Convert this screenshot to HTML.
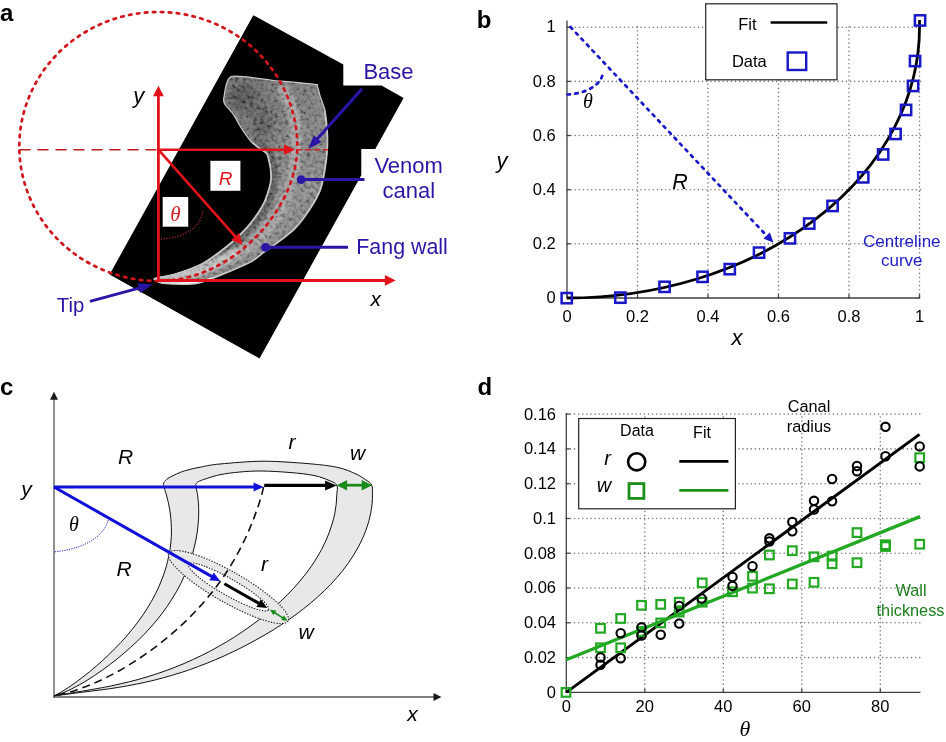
<!DOCTYPE html>
<html><head><meta charset="utf-8"><style>
html,body{margin:0;padding:0;background:#fff;width:946px;height:742px;overflow:hidden;}
svg{display:block;will-change:transform;}
</style></head><body>
<svg width="946" height="742" viewBox="0 0 946 742">
<rect width="946" height="742" fill="#fff"/>
<text x="0" y="21" fill="#000" text-anchor="start" style="font-family:'Liberation Sans',sans-serif;font-size:24px;font-weight:bold" >a</text>
<text x="476.8" y="28" fill="#000" text-anchor="start" style="font-family:'Liberation Sans',sans-serif;font-size:24px;font-weight:bold" >b</text>
<text x="0" y="395" fill="#000" text-anchor="start" style="font-family:'Liberation Sans',sans-serif;font-size:24px;font-weight:bold" >c</text>
<text x="477.5" y="395" fill="#000" text-anchor="start" style="font-family:'Liberation Sans',sans-serif;font-size:24px;font-weight:bold" >d</text>
<polygon points="253.3,15.2 343.3,64.5 343.3,85.5 381.5,85.5 403.6,98.1 375.3,149.1 361.3,149.1 361.3,175.3 259.5,358.4 109.6,274.6" fill="#000"/>
<defs><linearGradient id="fg" x1="0" y1="0" x2="1" y2="1"><stop offset="0" stop-color="#4c4c4c"/><stop offset="0.45" stop-color="#6c6c6c"/><stop offset="0.8" stop-color="#8a8a8a"/><stop offset="1" stop-color="#a4a4a4"/></linearGradient><filter id="bl" x="-50%" y="-50%" width="200%" height="200%"><feGaussianBlur stdDeviation="4"/></filter><filter id="bl2" x="-50%" y="-50%" width="200%" height="200%"><feGaussianBlur stdDeviation="1.5"/></filter><filter id="nz" x="0" y="0" width="100%" height="100%"><feTurbulence type="fractalNoise" baseFrequency="0.28" numOctaves="3" seed="7"/><feColorMatrix type="matrix" values="1.7 0 0 0 -0.45  1.7 0 0 0 -0.45  1.7 0 0 0 -0.45  0 0 0 0 0.28"/></filter><clipPath id="fclip"><path d="M231.2,76.5 C237.0,74.5 264.3,79.6 274.0,80.5 C283.7,81.4 309.5,83.7 314.5,84.3 C319.5,84.9 316.5,84.1 317.2,85.5 C317.9,86.9 319.2,93.0 320.1,95.9 C321.0,98.8 324.1,106.2 325.0,110.4 C325.9,114.6 327.1,126.8 327.4,131.5 C327.7,136.2 327.7,146.4 327.4,150.9 C327.1,155.4 325.8,165.7 325.0,170.3 C324.2,174.9 322.2,185.4 320.5,190.0 C318.8,194.6 313.0,204.8 310.0,209.3 C307.0,213.8 298.8,224.8 295.2,228.6 C291.6,232.4 282.5,239.1 278.9,241.9 C275.3,244.7 267.3,250.0 264.1,252.3 C260.9,254.6 256.7,259.0 251.5,261.7 C246.3,264.4 225.7,273.3 219.8,275.7 C213.9,278.1 204.4,281.6 200.7,282.6 C197.0,283.6 192.4,284.2 188.0,284.3 C183.6,284.4 166.5,283.7 162.7,283.3 C158.9,282.9 156.4,281.1 155.5,280.5 C154.6,279.9 152.8,279.0 155.1,278.2 C157.4,277.4 170.1,275.4 175.4,273.8 C180.7,272.2 195.5,266.9 200.7,264.3 C205.9,261.7 216.0,254.4 219.8,251.6 C223.6,248.8 230.3,243.4 233.5,240.5 C236.7,237.6 244.6,229.8 247.5,226.5 C250.4,223.2 256.2,215.3 258.2,212.3 C260.2,209.3 263.5,203.4 264.8,200.4 C266.1,197.4 268.6,189.6 269.3,187.0 C270.0,184.4 270.7,180.3 270.8,178.0 C270.9,175.7 270.5,169.8 270.0,167.0 C269.5,164.2 267.9,156.2 266.8,154.1 C265.7,152.0 262.0,150.5 260.3,149.2 C258.6,147.9 254.3,145.1 252.2,142.8 C250.1,140.5 244.8,133.2 242.5,129.8 C240.2,126.4 234.9,116.7 232.8,113.7 C230.7,110.7 225.7,105.9 224.7,104.0 C223.7,102.1 223.1,100.7 223.9,97.5 C224.7,94.3 225.4,78.5 231.2,76.5Z"/></clipPath></defs>
<path d="M231.2,76.5 C237.0,74.5 264.3,79.6 274.0,80.5 C283.7,81.4 309.5,83.7 314.5,84.3 C319.5,84.9 316.5,84.1 317.2,85.5 C317.9,86.9 319.2,93.0 320.1,95.9 C321.0,98.8 324.1,106.2 325.0,110.4 C325.9,114.6 327.1,126.8 327.4,131.5 C327.7,136.2 327.7,146.4 327.4,150.9 C327.1,155.4 325.8,165.7 325.0,170.3 C324.2,174.9 322.2,185.4 320.5,190.0 C318.8,194.6 313.0,204.8 310.0,209.3 C307.0,213.8 298.8,224.8 295.2,228.6 C291.6,232.4 282.5,239.1 278.9,241.9 C275.3,244.7 267.3,250.0 264.1,252.3 C260.9,254.6 256.7,259.0 251.5,261.7 C246.3,264.4 225.7,273.3 219.8,275.7 C213.9,278.1 204.4,281.6 200.7,282.6 C197.0,283.6 192.4,284.2 188.0,284.3 C183.6,284.4 166.5,283.7 162.7,283.3 C158.9,282.9 156.4,281.1 155.5,280.5 C154.6,279.9 152.8,279.0 155.1,278.2 C157.4,277.4 170.1,275.4 175.4,273.8 C180.7,272.2 195.5,266.9 200.7,264.3 C205.9,261.7 216.0,254.4 219.8,251.6 C223.6,248.8 230.3,243.4 233.5,240.5 C236.7,237.6 244.6,229.8 247.5,226.5 C250.4,223.2 256.2,215.3 258.2,212.3 C260.2,209.3 263.5,203.4 264.8,200.4 C266.1,197.4 268.6,189.6 269.3,187.0 C270.0,184.4 270.7,180.3 270.8,178.0 C270.9,175.7 270.5,169.8 270.0,167.0 C269.5,164.2 267.9,156.2 266.8,154.1 C265.7,152.0 262.0,150.5 260.3,149.2 C258.6,147.9 254.3,145.1 252.2,142.8 C250.1,140.5 244.8,133.2 242.5,129.8 C240.2,126.4 234.9,116.7 232.8,113.7 C230.7,110.7 225.7,105.9 224.7,104.0 C223.7,102.1 223.1,100.7 223.9,97.5 C224.7,94.3 225.4,78.5 231.2,76.5Z" fill="url(#fg)"/>
<g clip-path="url(#fclip)"><ellipse cx="244" cy="98" rx="15" ry="13" fill="#3c3c3c" filter="url(#bl)"/><ellipse cx="262" cy="122" rx="11" ry="18" fill="#4a4a4a" filter="url(#bl)"/><ellipse cx="285" cy="95" rx="14" ry="9" fill="#6a6a6a" filter="url(#bl)"/><path d="M160.0,280.0 C167.8,278.5 192.8,276.2 207.0,271.0 C221.2,265.8 235.8,255.2 245.0,249.0 C254.2,242.8 257.0,239.2 262.0,234.0 C267.0,228.8 270.8,224.5 275.0,218.0 C279.2,211.5 284.0,202.2 287.0,195.0 C290.0,187.8 291.5,182.5 293.0,175.0 C294.5,167.5 295.8,160.0 296.0,150.0 C296.2,140.0 296.3,125.7 294.0,115.0 C291.7,104.3 284.0,90.8 282.0,86.0" stroke="#a0a0a0" stroke-width="12" fill="none" filter="url(#bl2)"/><path d="M219.8,251.6 C222.1,249.8 228.9,244.7 233.5,240.5 C238.1,236.3 243.4,231.2 247.5,226.5 C251.6,221.8 255.3,216.7 258.2,212.3 C261.1,208.0 262.9,204.6 264.8,200.4 C266.7,196.2 268.3,190.7 269.3,187.0 C270.3,183.3 270.7,181.3 270.8,178.0 C270.9,174.7 270.7,171.0 270.0,167.0 C269.3,163.0 268.4,157.1 266.8,154.1 C265.2,151.1 262.7,151.1 260.3,149.2 C257.9,147.3 253.5,143.9 252.2,142.8" stroke="#464646" stroke-width="14" fill="none" filter="url(#bl2)"/><path d="M152,281 C180,279 210,270 238,250" stroke="#c4c4c4" stroke-width="9" fill="none" filter="url(#bl2)"/><path d="M160.0,284.0 C164.7,284.1 181.2,284.5 188.0,284.3 C194.8,284.1 195.4,284.0 200.7,282.6 C206.0,281.2 211.3,279.2 219.8,275.7 C228.3,272.2 244.1,265.6 251.5,261.7 C258.9,257.8 259.5,255.6 264.1,252.3 C268.7,249.0 273.7,245.9 278.9,241.9 C284.1,237.9 290.0,234.0 295.2,228.6 C300.4,223.2 305.8,215.7 310.0,209.3 C314.2,202.9 318.0,196.5 320.5,190.0 C323.0,183.5 323.9,176.8 325.0,170.3 C326.1,163.8 327.0,157.4 327.4,150.9 C327.8,144.4 327.8,138.2 327.4,131.5 C327.0,124.8 325.4,113.9 325.0,110.4" stroke="#767676" stroke-width="9" fill="none" filter="url(#bl2)"/><rect x="150" y="70" width="185" height="220" filter="url(#nz)"/><path d="M150.0,279.0 C154.2,278.1 167.0,276.2 175.4,273.8 C183.8,271.4 193.3,268.0 200.7,264.3 C208.1,260.6 214.3,255.6 219.8,251.6 C225.3,247.6 228.9,244.7 233.5,240.5 C238.1,236.3 243.4,231.2 247.5,226.5 C251.6,221.8 255.3,216.7 258.2,212.3 C261.1,208.0 262.9,204.6 264.8,200.4 C266.7,196.2 268.3,190.7 269.3,187.0 C270.3,183.3 270.7,181.3 270.8,178.0 C270.9,174.7 270.7,171.0 270.0,167.0 C269.3,163.0 268.4,157.1 266.8,154.1 C265.2,151.1 262.7,151.1 260.3,149.2 C257.9,147.3 253.5,143.9 252.2,142.8" stroke="#c4c4c4" stroke-width="2.4" fill="none"/><path d="M160.0,284.0 C164.7,284.1 181.2,284.5 188.0,284.3 C194.8,284.1 195.4,284.0 200.7,282.6 C206.0,281.2 211.3,279.2 219.8,275.7 C228.3,272.2 244.1,265.6 251.5,261.7 C258.9,257.8 259.5,255.6 264.1,252.3 C268.7,249.0 273.7,245.9 278.9,241.9 C284.1,237.9 290.0,234.0 295.2,228.6 C300.4,223.2 305.8,215.7 310.0,209.3 C314.2,202.9 318.0,196.5 320.5,190.0 C323.0,183.5 323.9,176.8 325.0,170.3 C326.1,163.8 327.0,157.4 327.4,150.9 C327.8,144.4 327.8,138.2 327.4,131.5 C327.0,124.8 325.4,113.9 325.0,110.4" stroke="#cacaca" stroke-width="2.4" fill="none"/><path d="M158,283 C175,284.5 195,284.5 212,279" stroke="#f2f2f2" stroke-width="3" fill="none"/></g>
<path d="M231.2,76.5 C237.0,74.5 264.3,79.6 274.0,80.5 C283.7,81.4 309.5,83.7 314.5,84.3 C319.5,84.9 316.5,84.1 317.2,85.5 C317.9,86.9 319.2,93.0 320.1,95.9 C321.0,98.8 324.1,106.2 325.0,110.4 C325.9,114.6 327.1,126.8 327.4,131.5 C327.7,136.2 327.7,146.4 327.4,150.9 C327.1,155.4 325.8,165.7 325.0,170.3 C324.2,174.9 322.2,185.4 320.5,190.0 C318.8,194.6 313.0,204.8 310.0,209.3 C307.0,213.8 298.8,224.8 295.2,228.6 C291.6,232.4 282.5,239.1 278.9,241.9 C275.3,244.7 267.3,250.0 264.1,252.3 C260.9,254.6 256.7,259.0 251.5,261.7 C246.3,264.4 225.7,273.3 219.8,275.7 C213.9,278.1 204.4,281.6 200.7,282.6 C197.0,283.6 192.4,284.2 188.0,284.3 C183.6,284.4 166.5,283.7 162.7,283.3 C158.9,282.9 156.4,281.1 155.5,280.5 C154.6,279.9 152.8,279.0 155.1,278.2 C157.4,277.4 170.1,275.4 175.4,273.8 C180.7,272.2 195.5,266.9 200.7,264.3 C205.9,261.7 216.0,254.4 219.8,251.6 C223.6,248.8 230.3,243.4 233.5,240.5 C236.7,237.6 244.6,229.8 247.5,226.5 C250.4,223.2 256.2,215.3 258.2,212.3 C260.2,209.3 263.5,203.4 264.8,200.4 C266.1,197.4 268.6,189.6 269.3,187.0 C270.0,184.4 270.7,180.3 270.8,178.0 C270.9,175.7 270.5,169.8 270.0,167.0 C269.5,164.2 267.9,156.2 266.8,154.1 C265.7,152.0 262.0,150.5 260.3,149.2 C258.6,147.9 254.3,145.1 252.2,142.8 C250.1,140.5 244.8,133.2 242.5,129.8 C240.2,126.4 234.9,116.7 232.8,113.7 C230.7,110.7 225.7,105.9 224.7,104.0 C223.7,102.1 223.1,100.7 223.9,97.5 C224.7,94.3 225.4,78.5 231.2,76.5Z" fill="none" stroke="#c8c8c8" stroke-width="1.2"/>
<path d="M158.3,281.0 A139,134.5 0 0 1 19.3,146.5 A139,134.5 0 0 1 158.3,12.0 A139,134.5 0 0 1 297.3,146.5 C297.3,208.5 233.3,281.0 158.3,281.0" fill="none" stroke="#d2141c" stroke-width="2.7" stroke-linecap="round" stroke-dasharray="2.5,5.5"/>
<line x1="19.5" y1="149.7" x2="158" y2="149.7" stroke="#c01c22" stroke-width="1.6" stroke-dasharray="11,7"/>
<line x1="296" y1="149.7" x2="328" y2="149.7" stroke="#d02228" stroke-width="1.4" stroke-dasharray="6,3"/>
<line x1="158.4" y1="281.0" x2="158.4" y2="94.1" stroke="#e3121a" stroke-width="2.8" /><polygon points="158.4,85.7 163.8,96.2 153.0,96.2" fill="#e3121a"/>
<line x1="157.0" y1="280.4" x2="387.1" y2="280.4" stroke="#e3121a" stroke-width="3" /><polygon points="395.7,280.4 384.9,285.8 384.9,275.0" fill="#e3121a"/>
<line x1="158.4" y1="149.7" x2="286.2" y2="149.7" stroke="#e3121a" stroke-width="2.6" /><polygon points="294.8,149.7 284.0,155.1 284.0,144.3" fill="#e3121a"/>
<line x1="158.4" y1="149.7" x2="236.7" y2="238.2" stroke="#e3121a" stroke-width="2.6" /><polygon points="242.5,244.8 231.2,240.1 239.3,233.0" fill="#e3121a"/>
<path d="M202.8,211.6 C201,226 186,238 159.4,239.3" fill="none" stroke="#b0283a" stroke-width="1.2" stroke-dasharray="1.2,1.6"/>
<rect x="210.4" y="160.8" width="30" height="30" fill="#fff"/>
<text x="225.5" y="184.6" fill="#e3121a" text-anchor="middle" style="font-family:'Liberation Sans',sans-serif;font-size:19px;font-style:italic" >R</text>
<rect x="162.7" y="197" width="25.5" height="29.7" fill="#fff"/>
<text x="175.5" y="221" fill="#d01e28" text-anchor="middle" style="font-family:'Liberation Serif',serif;font-size:21px;font-style:italic" >&#952;</text>
<line x1="362.1" y1="88.7" x2="315.8" y2="140.6" stroke="#2a16a6" stroke-width="3" /><polygon points="308.3,149.0 313.9,135.2 321.4,141.9" fill="#2a16a6"/>
<line x1="89.9" y1="301.4" x2="141.7" y2="287.4" stroke="#2a16a6" stroke-width="3" /><polygon points="152.5,284.5 140.3,293.0 137.7,283.3" fill="#2a16a6"/>
<line x1="301.2" y1="179.5" x2="364.5" y2="179.5" stroke="#2a16a6" stroke-width="3"/><circle cx="301.2" cy="179.6" r="4.4" fill="#2a16a6"/>
<line x1="265.5" y1="247.3" x2="348" y2="247.3" stroke="#2a16a6" stroke-width="3"/><circle cx="265.5" cy="247.3" r="4.4" fill="#2a16a6"/>
<text x="363.4" y="78.8" fill="#2a16a6" text-anchor="start" style="font-family:'Liberation Sans',sans-serif;font-size:22px" >Base</text>
<text x="374.4" y="172.6" fill="#2a16a6" text-anchor="start" style="font-family:'Liberation Sans',sans-serif;font-size:22px" >Venom</text>
<text x="382.5" y="197.8" fill="#2a16a6" text-anchor="start" style="font-family:'Liberation Sans',sans-serif;font-size:22px" >canal</text>
<text x="356.3" y="254.4" fill="#2a16a6" text-anchor="start" style="font-family:'Liberation Sans',sans-serif;font-size:21.4px" >Fang wall</text>
<text x="56.8" y="311.7" fill="#2a16a6" text-anchor="start" style="font-family:'Liberation Sans',sans-serif;font-size:20.3px" >Tip</text>
<text x="133.2" y="102.6" fill="#000" text-anchor="start" style="font-family:'Liberation Sans',sans-serif;font-size:22px;font-style:italic" >y</text>
<text x="370.5" y="305.5" fill="#000" text-anchor="start" style="font-family:'Liberation Sans',sans-serif;font-size:21px;font-style:italic" >x</text>
<line x1="637.5" y1="298.0" x2="637.5" y2="26.7" stroke="#7c7c7c" stroke-width="1.6" stroke-linecap="round" stroke-dasharray="0.01,4.1"/>
<line x1="567.0" y1="243.8" x2="920.5" y2="243.8" stroke="#7c7c7c" stroke-width="1.6" stroke-linecap="round" stroke-dasharray="0.01,4.1"/>
<line x1="708.0" y1="298.0" x2="708.0" y2="26.7" stroke="#7c7c7c" stroke-width="1.6" stroke-linecap="round" stroke-dasharray="0.01,4.1"/>
<line x1="567.0" y1="189.7" x2="920.5" y2="189.7" stroke="#7c7c7c" stroke-width="1.6" stroke-linecap="round" stroke-dasharray="0.01,4.1"/>
<line x1="778.5" y1="298.0" x2="778.5" y2="26.7" stroke="#7c7c7c" stroke-width="1.6" stroke-linecap="round" stroke-dasharray="0.01,4.1"/>
<line x1="567.0" y1="135.5" x2="920.5" y2="135.5" stroke="#7c7c7c" stroke-width="1.6" stroke-linecap="round" stroke-dasharray="0.01,4.1"/>
<line x1="849.0" y1="298.0" x2="849.0" y2="26.7" stroke="#7c7c7c" stroke-width="1.6" stroke-linecap="round" stroke-dasharray="0.01,4.1"/>
<line x1="567.0" y1="81.4" x2="920.5" y2="81.4" stroke="#7c7c7c" stroke-width="1.6" stroke-linecap="round" stroke-dasharray="0.01,4.1"/>
<line x1="919.5" y1="298.0" x2="919.5" y2="26.7" stroke="#7c7c7c" stroke-width="1.6" stroke-linecap="round" stroke-dasharray="0.01,4.1"/>
<line x1="567.0" y1="27.2" x2="920.5" y2="27.2" stroke="#7c7c7c" stroke-width="1.6" stroke-linecap="round" stroke-dasharray="0.01,4.1"/>
<line x1="567.0" y1="20.4" x2="567.0" y2="298.6" stroke="#404040" stroke-width="1.3"/>
<line x1="566.4" y1="298.0" x2="920.1" y2="298.0" stroke="#404040" stroke-width="1.3"/>
<line x1="567.0" y1="298.0" x2="567.0" y2="294.5" stroke="#404040" stroke-width="1.3"/>
<line x1="567.0" y1="298.0" x2="570.5" y2="298.0" stroke="#404040" stroke-width="1.3"/>
<line x1="637.5" y1="298.0" x2="637.5" y2="294.5" stroke="#404040" stroke-width="1.3"/>
<line x1="567.0" y1="243.8" x2="570.5" y2="243.8" stroke="#404040" stroke-width="1.3"/>
<line x1="708.0" y1="298.0" x2="708.0" y2="294.5" stroke="#404040" stroke-width="1.3"/>
<line x1="567.0" y1="189.7" x2="570.5" y2="189.7" stroke="#404040" stroke-width="1.3"/>
<line x1="778.5" y1="298.0" x2="778.5" y2="294.5" stroke="#404040" stroke-width="1.3"/>
<line x1="567.0" y1="135.5" x2="570.5" y2="135.5" stroke="#404040" stroke-width="1.3"/>
<line x1="849.0" y1="298.0" x2="849.0" y2="294.5" stroke="#404040" stroke-width="1.3"/>
<line x1="567.0" y1="81.4" x2="570.5" y2="81.4" stroke="#404040" stroke-width="1.3"/>
<line x1="919.5" y1="298.0" x2="919.5" y2="294.5" stroke="#404040" stroke-width="1.3"/>
<line x1="567.0" y1="27.2" x2="570.5" y2="27.2" stroke="#404040" stroke-width="1.3"/>
<text x="567.0" y="321.8" fill="#000" text-anchor="middle" style="font-family:'Liberation Sans',sans-serif;font-size:16.5px" >0</text>
<text x="555.8" y="303.2" fill="#000" text-anchor="end" style="font-family:'Liberation Sans',sans-serif;font-size:16.5px" >0</text>
<text x="637.5" y="321.8" fill="#000" text-anchor="middle" style="font-family:'Liberation Sans',sans-serif;font-size:16.5px" >0.2</text>
<text x="555.8" y="249.0" fill="#000" text-anchor="end" style="font-family:'Liberation Sans',sans-serif;font-size:16.5px" >0.2</text>
<text x="708.0" y="321.8" fill="#000" text-anchor="middle" style="font-family:'Liberation Sans',sans-serif;font-size:16.5px" >0.4</text>
<text x="555.8" y="194.9" fill="#000" text-anchor="end" style="font-family:'Liberation Sans',sans-serif;font-size:16.5px" >0.4</text>
<text x="778.5" y="321.8" fill="#000" text-anchor="middle" style="font-family:'Liberation Sans',sans-serif;font-size:16.5px" >0.6</text>
<text x="555.8" y="140.7" fill="#000" text-anchor="end" style="font-family:'Liberation Sans',sans-serif;font-size:16.5px" >0.6</text>
<text x="849.0" y="321.8" fill="#000" text-anchor="middle" style="font-family:'Liberation Sans',sans-serif;font-size:16.5px" >0.8</text>
<text x="555.8" y="86.6" fill="#000" text-anchor="end" style="font-family:'Liberation Sans',sans-serif;font-size:16.5px" >0.8</text>
<text x="919.5" y="321.8" fill="#000" text-anchor="middle" style="font-family:'Liberation Sans',sans-serif;font-size:16.5px" >1</text>
<text x="555.8" y="32.4" fill="#000" text-anchor="end" style="font-family:'Liberation Sans',sans-serif;font-size:16.5px" >1</text>
<text x="737" y="345" fill="#000" text-anchor="middle" style="font-family:'Liberation Sans',sans-serif;font-size:22px;font-style:italic" >x</text>
<text x="502" y="168" fill="#000" text-anchor="middle" style="font-family:'Liberation Sans',sans-serif;font-size:22px;font-style:italic" >y</text>
<path d="M567.0,298.0 A352.5,270.8 0 0 0 919.5,27.2 L919.5,20" fill="none" stroke="#000" stroke-width="2.8"/>
<line x1="570.5" y1="27" x2="766" y2="235" stroke="#1818c8" stroke-width="2.7" stroke-linecap="round" stroke-dasharray="2.4,5.6"/>
<polygon points="773.5,242.8 763.4,238.6 769.9,232.4" fill="#1818c8"/>
<path d="M567.5,94.5 C583,94 602.8,86 602.8,71.6" fill="none" stroke="#1818c8" stroke-width="2.7" stroke-linecap="round" stroke-dasharray="2.6,5.2"/>
<text x="588" y="108" fill="#000" text-anchor="middle" style="font-family:'Liberation Serif',serif;font-size:20px;font-style:italic" >&#952;</text>
<text x="680" y="188.9" fill="#000" text-anchor="middle" style="font-family:'Liberation Sans',sans-serif;font-size:21.5px;font-style:italic" >R</text>
<rect x="561.6" y="293.0" width="10.3" height="10.3" fill="none" stroke="#1818c8" stroke-width="2.5"/>
<rect x="615.2" y="292.5" width="10.3" height="10.3" fill="none" stroke="#1818c8" stroke-width="2.5"/>
<rect x="659.4" y="281.7" width="10.3" height="10.3" fill="none" stroke="#1818c8" stroke-width="2.5"/>
<rect x="697.4" y="271.7" width="10.3" height="10.3" fill="none" stroke="#1818c8" stroke-width="2.5"/>
<rect x="724.6" y="264.0" width="10.3" height="10.3" fill="none" stroke="#1818c8" stroke-width="2.5"/>
<rect x="753.9" y="247.5" width="10.3" height="10.3" fill="none" stroke="#1818c8" stroke-width="2.5"/>
<rect x="784.8" y="233.2" width="10.3" height="10.3" fill="none" stroke="#1818c8" stroke-width="2.5"/>
<rect x="804.1" y="218.4" width="10.3" height="10.3" fill="none" stroke="#1818c8" stroke-width="2.5"/>
<rect x="827.4" y="200.8" width="10.3" height="10.3" fill="none" stroke="#1818c8" stroke-width="2.5"/>
<rect x="858.1" y="172.2" width="10.3" height="10.3" fill="none" stroke="#1818c8" stroke-width="2.5"/>
<rect x="878.0" y="149.3" width="10.3" height="10.3" fill="none" stroke="#1818c8" stroke-width="2.5"/>
<rect x="890.4" y="128.8" width="10.3" height="10.3" fill="none" stroke="#1818c8" stroke-width="2.5"/>
<rect x="900.9" y="104.8" width="10.3" height="10.3" fill="none" stroke="#1818c8" stroke-width="2.5"/>
<rect x="907.9" y="80.8" width="10.3" height="10.3" fill="none" stroke="#1818c8" stroke-width="2.5"/>
<rect x="909.9" y="55.9" width="10.3" height="10.3" fill="none" stroke="#1818c8" stroke-width="2.5"/>
<rect x="914.9" y="15.3" width="10.3" height="10.3" fill="none" stroke="#1818c8" stroke-width="2.5"/>
<rect x="705.7" y="3.8" width="131.3" height="76" fill="#fff" stroke="#222" stroke-width="1.2"/>
<text x="756.5" y="30.3" fill="#000" text-anchor="end" style="font-family:'Liberation Sans',sans-serif;font-size:16.5px" >Fit</text>
<line x1="770.6" y1="22.5" x2="827.2" y2="22.5" stroke="#000" stroke-width="2.6"/>
<text x="766.8" y="66.8" fill="#000" text-anchor="end" style="font-family:'Liberation Sans',sans-serif;font-size:16.5px" >Data</text>
<rect x="787.7" y="52.5" width="18.5" height="17.5" fill="none" stroke="#1818c8" stroke-width="2.4"/>
<text x="901.8" y="246.8" fill="#2020c8" text-anchor="middle" style="font-family:'Liberation Sans',sans-serif;font-size:17px" >Centreline</text>
<text x="901.8" y="266.2" fill="#2020c8" text-anchor="middle" style="font-family:'Liberation Sans',sans-serif;font-size:17px" >curve</text>
<line x1="54" y1="697.5" x2="54" y2="398" stroke="#555" stroke-width="1.3"/>
<polygon points="54.0,391.8 58.0,399.8 50.0,399.8" fill="#1a1a1a"/>
<line x1="53.4" y1="697" x2="434" y2="697" stroke="#555" stroke-width="1.3"/>
<polygon points="441.5,697.0 433.5,701.0 433.5,693.0" fill="#1a1a1a"/>
<path d="M54.2,695.8 C55.4,695.1 59.2,693.2 61.7,691.7 C64.1,690.3 66.5,688.7 68.9,687.2 C71.3,685.6 73.6,683.9 75.9,682.3 C78.3,680.6 80.6,678.9 82.8,677.1 C85.1,675.3 87.4,673.6 89.6,671.7 C91.8,669.9 94.0,668.1 96.2,666.2 C98.3,664.3 100.5,662.4 102.6,660.5 C104.7,658.6 106.8,656.6 108.8,654.7 C110.9,652.7 112.9,650.7 114.9,648.6 C116.9,646.6 118.9,644.6 120.8,642.5 C122.7,640.4 124.7,638.3 126.5,636.1 C128.4,634.0 130.2,631.8 132.0,629.6 C133.8,627.4 135.6,625.1 137.3,622.8 C139.0,620.6 140.7,618.2 142.3,615.9 C143.9,613.5 145.5,611.2 147.0,608.7 C148.5,606.3 150.0,603.9 151.4,601.4 C152.8,598.9 154.2,596.4 155.5,593.8 C156.8,591.2 158.0,588.7 159.2,586.0 C160.3,583.4 161.4,580.8 162.4,578.1 C163.4,575.4 164.4,572.7 165.2,570.0 C166.1,567.2 166.9,564.5 167.5,561.7 C168.2,558.9 168.8,556.1 169.3,553.3 C169.9,550.5 170.3,547.7 170.6,544.9 C170.9,542.0 171.2,539.2 171.3,536.3 C171.4,533.5 171.5,530.7 171.4,527.8 C171.3,525.0 171.2,522.1 170.9,519.3 C170.7,516.5 170.3,513.6 169.9,510.8 C169.4,508.0 168.9,505.2 168.3,502.4 C167.7,499.6 167.0,496.8 166.2,494.0 C165.4,491.3 164.0,487.9 163.7,485.8 C163.4,483.7 163.5,482.9 164.6,481.5 C165.7,480.1 166.7,479.0 170.0,477.2 C173.3,475.4 179.1,472.6 184.4,470.9 C189.7,469.2 195.7,468.0 201.6,466.9 C207.5,465.8 209.6,464.9 220.0,464.0 C230.4,463.1 249.0,461.2 264.0,461.2 C279.0,461.2 297.7,462.8 310.0,463.8 C322.3,464.9 330.3,465.8 338.0,467.5 C345.7,469.2 351.3,471.9 356.0,474.0 C360.7,476.1 363.4,478.2 366.0,480.0 C368.6,481.8 370.6,482.6 371.7,485.0 C372.8,487.4 372.4,491.1 372.4,494.2 C372.5,497.3 372.3,500.4 372.1,503.5 C371.8,506.6 371.3,509.7 370.8,512.7 C370.2,515.7 369.5,518.7 368.7,521.7 C367.8,524.6 366.9,527.5 365.8,530.4 C364.8,533.3 363.6,536.1 362.3,538.9 C361.0,541.7 359.7,544.5 358.2,547.2 C356.7,549.9 355.2,552.5 353.6,555.1 C352.0,557.7 350.2,560.3 348.5,562.8 C346.7,565.3 344.9,567.8 343.0,570.2 C341.1,572.6 339.1,575.0 337.1,577.3 C335.1,579.6 333.0,581.9 330.9,584.2 C328.7,586.4 326.6,588.6 324.4,590.7 C322.1,592.9 319.9,595.0 317.6,597.0 C315.3,599.1 313.0,601.1 310.6,603.1 C308.2,605.0 305.8,607.0 303.4,608.9 C301.0,610.8 298.5,612.6 296.0,614.5 C293.6,616.3 291.1,618.1 288.5,619.8 C286.0,621.6 283.4,623.3 280.9,625.0 C278.3,626.7 275.7,628.3 273.1,630.0 C270.4,631.6 267.8,633.2 265.2,634.7 C262.5,636.3 259.8,637.8 257.1,639.3 C254.5,640.8 251.8,642.3 249.0,643.7 C246.3,645.2 243.6,646.6 240.8,648.0 C238.1,649.3 235.3,650.7 232.5,652.0 C229.8,653.3 227.0,654.6 224.2,655.9 C221.4,657.2 218.6,658.4 215.7,659.6 C212.9,660.8 210.1,662.0 207.2,663.1 C204.3,664.2 201.5,665.4 198.6,666.4 C195.7,667.5 192.8,668.5 189.9,669.6 C187.0,670.6 184.1,671.5 181.2,672.5 C178.3,673.4 175.3,674.3 172.4,675.2 C169.4,676.1 166.5,676.9 163.5,677.7 C160.6,678.6 157.6,679.3 154.6,680.1 C151.6,680.8 148.6,681.5 145.6,682.2 C142.6,682.9 139.6,683.5 136.6,684.1 C133.5,684.7 130.5,685.3 127.5,685.8 C124.4,686.4 121.4,686.9 118.3,687.4 C115.3,687.9 112.2,688.3 109.2,688.8 C106.1,689.2 103.1,689.6 100.0,690.0 C96.9,690.4 93.9,690.8 90.8,691.2 C87.7,691.6 84.7,692.0 81.6,692.3 C78.6,692.7 75.5,693.1 72.5,693.5 C69.4,693.9 66.4,694.3 63.3,694.7 C60.3,695.1 55.7,695.6 54.2,695.8Z" fill="#e8e8e8" stroke="#111" stroke-width="1"/>
<path d="M54.2,695.8 C55.6,695.3 60.0,694.0 62.9,692.9 C65.7,691.8 68.4,690.5 71.2,689.1 C73.9,687.8 76.6,686.4 79.2,684.9 C81.9,683.5 84.5,681.9 87.1,680.3 C89.7,678.7 92.2,677.1 94.7,675.4 C97.3,673.7 99.8,672.0 102.2,670.2 C104.7,668.5 107.2,666.6 109.6,664.8 C112.0,663.0 114.4,661.1 116.8,659.2 C119.2,657.3 121.5,655.3 123.8,653.3 C126.2,651.4 128.5,649.4 130.7,647.3 C133.0,645.3 135.2,643.2 137.4,641.1 C139.6,639.0 141.7,636.8 143.8,634.7 C145.9,632.5 148.0,630.3 150.0,628.0 C152.1,625.7 154.1,623.5 156.0,621.1 C157.9,618.8 159.8,616.4 161.7,614.0 C163.5,611.6 165.3,609.1 167.0,606.6 C168.7,604.1 170.4,601.6 172.0,599.0 C173.6,596.5 175.2,593.9 176.7,591.2 C178.2,588.6 179.6,585.9 181.0,583.2 C182.3,580.4 183.6,577.7 184.8,574.9 C186.1,572.1 187.2,569.3 188.3,566.4 C189.4,563.6 190.4,560.7 191.3,557.8 C192.2,554.9 193.1,551.9 193.8,549.0 C194.6,546.0 195.3,543.1 195.9,540.1 C196.4,537.1 197.0,534.1 197.4,531.1 C197.8,528.1 198.1,525.1 198.3,522.0 C198.6,519.0 198.7,516.0 198.7,513.0 C198.7,509.9 198.7,506.9 198.5,503.9 C198.3,500.9 198.0,497.8 197.5,494.8 C197.1,491.8 196.0,487.7 195.8,485.8 C195.6,483.9 195.9,484.1 196.5,483.3 C197.1,482.5 197.5,482.0 199.3,481.2 C201.1,480.4 203.9,479.4 207.3,478.3 C210.8,477.2 214.6,475.8 220.0,474.7 C225.4,473.6 233.0,472.6 240.0,472.0 C247.0,471.4 253.7,470.9 262.0,471.0 C270.3,471.1 281.3,471.8 290.0,472.5 C298.7,473.2 307.7,474.2 314.0,475.5 C320.3,476.8 324.2,478.4 328.0,480.0 C331.8,481.6 335.2,482.6 336.7,485.0 C338.2,487.4 336.9,491.4 336.8,494.6 C336.7,497.9 336.5,501.1 336.2,504.3 C335.8,507.5 335.3,510.6 334.7,513.8 C334.0,516.9 333.3,520.0 332.4,523.0 C331.5,526.1 330.5,529.1 329.4,532.1 C328.3,535.1 327.1,538.0 325.8,540.9 C324.5,543.8 323.1,546.7 321.6,549.5 C320.1,552.3 318.5,555.0 316.8,557.7 C315.2,560.5 313.4,563.1 311.6,565.8 C309.8,568.4 308.0,571.0 306.0,573.5 C304.1,576.0 302.1,578.5 300.0,581.0 C298.0,583.4 295.9,585.8 293.7,588.2 C291.6,590.5 289.3,592.9 287.1,595.1 C284.8,597.4 282.5,599.6 280.2,601.8 C277.9,604.0 275.5,606.2 273.1,608.3 C270.7,610.4 268.2,612.4 265.7,614.5 C263.3,616.5 260.8,618.5 258.2,620.4 C255.7,622.4 253.1,624.3 250.5,626.1 C247.9,628.0 245.3,629.8 242.6,631.6 C240.0,633.4 237.3,635.2 234.6,636.9 C231.9,638.6 229.2,640.3 226.5,641.9 C223.7,643.6 221.0,645.2 218.2,646.7 C215.4,648.3 212.6,649.8 209.8,651.3 C207.0,652.8 204.1,654.2 201.3,655.6 C198.4,657.0 195.6,658.4 192.7,659.7 C189.8,661.1 186.9,662.3 183.9,663.6 C181.0,664.8 178.1,666.0 175.1,667.2 C172.2,668.4 169.2,669.5 166.2,670.6 C163.2,671.7 160.2,672.7 157.2,673.7 C154.1,674.7 151.1,675.7 148.1,676.6 C145.0,677.6 141.9,678.4 138.9,679.3 C135.8,680.1 132.7,680.9 129.6,681.7 C126.5,682.5 123.4,683.2 120.2,683.9 C117.1,684.7 114.0,685.3 110.8,686.0 C107.7,686.6 104.5,687.2 101.4,687.8 C98.2,688.4 95.1,689.0 91.9,689.5 C88.8,690.1 85.6,690.6 82.4,691.1 C79.3,691.6 76.1,692.2 73.0,692.7 C69.8,693.2 66.7,693.7 63.6,694.2 C60.5,694.7 55.8,695.5 54.2,695.8Z" fill="#fff" stroke="#111" stroke-width="1"/>
<g transform="translate(228.5,587) rotate(29.7)"><ellipse rx="68.6" ry="15.5" fill="#e8e8e8" stroke="#222" stroke-width="1.1" stroke-dasharray="1.4,1.4"/><ellipse rx="46" ry="8.4" fill="#fff" stroke="#222" stroke-width="1.1" stroke-dasharray="1.4,1.4"/></g>
<path d="M263.6,487.0 C263.2,488.6 262.1,493.4 261.2,496.6 C260.3,499.8 259.2,503.0 258.2,506.1 C257.1,509.3 256.0,512.4 254.8,515.6 C253.7,518.7 252.5,521.8 251.2,524.9 C250.0,528.0 248.6,531.1 247.3,534.2 C245.9,537.2 244.5,540.2 243.0,543.2 C241.5,546.2 240.0,549.2 238.4,552.2 C236.8,555.1 235.2,558.0 233.5,560.9 C231.8,563.8 230.1,566.6 228.3,569.4 C226.5,572.3 224.6,575.0 222.7,577.8 C220.9,580.5 218.9,583.2 216.9,585.9 C214.9,588.6 212.9,591.2 210.8,593.8 C208.7,596.4 206.6,598.9 204.4,601.5 C202.2,604.0 200.0,606.5 197.7,608.9 C195.5,611.4 193.2,613.8 190.8,616.1 C188.5,618.5 186.1,620.8 183.7,623.1 C181.2,625.4 178.8,627.7 176.3,629.9 C173.8,632.1 171.3,634.3 168.7,636.5 C166.1,638.6 163.5,640.7 160.9,642.8 C158.3,644.9 155.6,646.9 152.9,648.9 C150.2,650.9 147.5,652.8 144.8,654.7 C142.0,656.6 139.2,658.5 136.4,660.3 C133.6,662.1 130.8,663.9 127.9,665.6 C125.1,667.4 122.2,669.1 119.3,670.7 C116.4,672.3 113.4,673.9 110.5,675.4 C107.5,677.0 104.5,678.5 101.5,679.9 C98.5,681.3 95.5,682.7 92.4,683.9 C89.3,685.2 86.2,686.5 83.1,687.6 C80.0,688.8 76.8,689.9 73.7,690.9 C70.5,691.9 67.3,692.8 64.0,693.6 C60.8,694.4 55.8,695.4 54.2,695.8" fill="none" stroke="#111" stroke-width="1.6" stroke-dasharray="8,5"/>
<line x1="54.0" y1="487.0" x2="255.6" y2="487.0" stroke="#1010d8" stroke-width="3" /><polygon points="263.6,487.0 253.6,491.5 253.6,482.5" fill="#1010d8"/>
<line x1="264.2" y1="485.4" x2="327.4" y2="485.4" stroke="#000" stroke-width="3.2" /><polygon points="336.6,485.4 325.1,490.4 325.1,480.4" fill="#000"/>
<line x1="345.0" y1="485.2" x2="363.8" y2="485.2" stroke="#1a8a1a" stroke-width="2.8"/><polygon points="372.2,485.2 361.7,490.4 361.7,479.9" fill="#1a8a1a"/><polygon points="336.6,485.2 347.1,479.9 347.1,490.4" fill="#1a8a1a"/>
<line x1="54.0" y1="487.0" x2="213.3" y2="577.4" stroke="#1010d8" stroke-width="3" /><polygon points="220.3,581.3 209.4,580.3 213.8,572.5" fill="#1010d8"/>
<line x1="224.4" y1="583.7" x2="260.3" y2="604.1" stroke="#000" stroke-width="3" /><polygon points="267.3,608.1 256.4,607.1 260.8,599.2" fill="#000"/>
<line x1="274.0" y1="612.3" x2="283.6" y2="618.4" stroke="#1a8a1a" stroke-width="1.6"/><polygon points="287.7,621.0 281.2,620.1 284.1,615.5" fill="#1a8a1a"/><polygon points="269.9,609.7 276.4,610.6 273.5,615.2" fill="#1a8a1a"/>
<path d="M108.3,520 C104,536 85,549 54,551.9" fill="none" stroke="#2020c0" stroke-width="1" stroke-dasharray="1.2,1.2"/>
<text x="125.5" y="464" fill="#000" text-anchor="middle" style="font-family:'Liberation Sans',sans-serif;font-size:21px;font-style:italic" >R</text>
<text x="124" y="575.5" fill="#000" text-anchor="middle" style="font-family:'Liberation Sans',sans-serif;font-size:21px;font-style:italic" >R</text>
<text x="292" y="449" fill="#000" text-anchor="middle" style="font-family:'Liberation Sans',sans-serif;font-size:21px;font-style:italic" >r</text>
<text x="357.5" y="460" fill="#000" text-anchor="middle" style="font-family:'Liberation Sans',sans-serif;font-size:21px;font-style:italic" >w</text>
<text x="264.5" y="571" fill="#000" text-anchor="middle" style="font-family:'Liberation Sans',sans-serif;font-size:21px;font-style:italic" >r</text>
<text x="306" y="638.5" fill="#000" text-anchor="middle" style="font-family:'Liberation Sans',sans-serif;font-size:21px;font-style:italic" >w</text>
<text x="26.5" y="496" fill="#000" text-anchor="middle" style="font-family:'Liberation Sans',sans-serif;font-size:21px;font-style:italic" >y</text>
<text x="412.5" y="721" fill="#000" text-anchor="middle" style="font-family:'Liberation Sans',sans-serif;font-size:21px;font-style:italic" >x</text>
<text x="74" y="531" fill="#000" text-anchor="middle" style="font-family:'Liberation Serif',serif;font-size:20px;font-style:italic" >&#952;</text>
<line x1="644.8" y1="692.4" x2="644.8" y2="413.6" stroke="#7c7c7c" stroke-width="1.6" stroke-linecap="round" stroke-dasharray="0.01,4.1"/>
<line x1="723.3" y1="692.4" x2="723.3" y2="413.6" stroke="#7c7c7c" stroke-width="1.6" stroke-linecap="round" stroke-dasharray="0.01,4.1"/>
<line x1="801.8" y1="692.4" x2="801.8" y2="413.6" stroke="#7c7c7c" stroke-width="1.6" stroke-linecap="round" stroke-dasharray="0.01,4.1"/>
<line x1="880.3" y1="692.4" x2="880.3" y2="413.6" stroke="#7c7c7c" stroke-width="1.6" stroke-linecap="round" stroke-dasharray="0.01,4.1"/>
<line x1="566.3" y1="657.6" x2="920.6" y2="657.6" stroke="#7c7c7c" stroke-width="1.6" stroke-linecap="round" stroke-dasharray="0.01,4.1"/>
<line x1="566.3" y1="622.8" x2="920.6" y2="622.8" stroke="#7c7c7c" stroke-width="1.6" stroke-linecap="round" stroke-dasharray="0.01,4.1"/>
<line x1="566.3" y1="588.0" x2="920.6" y2="588.0" stroke="#7c7c7c" stroke-width="1.6" stroke-linecap="round" stroke-dasharray="0.01,4.1"/>
<line x1="566.3" y1="553.2" x2="920.6" y2="553.2" stroke="#7c7c7c" stroke-width="1.6" stroke-linecap="round" stroke-dasharray="0.01,4.1"/>
<line x1="566.3" y1="518.5" x2="920.6" y2="518.5" stroke="#7c7c7c" stroke-width="1.6" stroke-linecap="round" stroke-dasharray="0.01,4.1"/>
<line x1="566.3" y1="483.7" x2="920.6" y2="483.7" stroke="#7c7c7c" stroke-width="1.6" stroke-linecap="round" stroke-dasharray="0.01,4.1"/>
<line x1="566.3" y1="448.9" x2="920.6" y2="448.9" stroke="#7c7c7c" stroke-width="1.6" stroke-linecap="round" stroke-dasharray="0.01,4.1"/>
<line x1="566.3" y1="414.1" x2="920.6" y2="414.1" stroke="#7c7c7c" stroke-width="1.6" stroke-linecap="round" stroke-dasharray="0.01,4.1"/>
<line x1="566.3" y1="413.3" x2="566.3" y2="693.0" stroke="#404040" stroke-width="1.3"/>
<line x1="565.6999999999999" y1="692.4" x2="920.4" y2="692.4" stroke="#404040" stroke-width="1.3"/>
<line x1="566.3" y1="692.4" x2="566.3" y2="688.9" stroke="#404040" stroke-width="1.3"/>
<text x="566.3" y="712.2" fill="#000" text-anchor="middle" style="font-family:'Liberation Sans',sans-serif;font-size:16.5px" >0</text>
<line x1="644.8" y1="692.4" x2="644.8" y2="688.9" stroke="#404040" stroke-width="1.3"/>
<text x="644.8" y="712.2" fill="#000" text-anchor="middle" style="font-family:'Liberation Sans',sans-serif;font-size:16.5px" >20</text>
<line x1="723.3" y1="692.4" x2="723.3" y2="688.9" stroke="#404040" stroke-width="1.3"/>
<text x="723.3" y="712.2" fill="#000" text-anchor="middle" style="font-family:'Liberation Sans',sans-serif;font-size:16.5px" >40</text>
<line x1="801.8" y1="692.4" x2="801.8" y2="688.9" stroke="#404040" stroke-width="1.3"/>
<text x="801.8" y="712.2" fill="#000" text-anchor="middle" style="font-family:'Liberation Sans',sans-serif;font-size:16.5px" >60</text>
<line x1="880.3" y1="692.4" x2="880.3" y2="688.9" stroke="#404040" stroke-width="1.3"/>
<text x="880.3" y="712.2" fill="#000" text-anchor="middle" style="font-family:'Liberation Sans',sans-serif;font-size:16.5px" >80</text>
<line x1="566.3" y1="692.4" x2="569.8" y2="692.4" stroke="#404040" stroke-width="1.3"/>
<text x="556" y="697.8" fill="#000" text-anchor="end" style="font-family:'Liberation Sans',sans-serif;font-size:16.5px" >0</text>
<line x1="566.3" y1="657.6" x2="569.8" y2="657.6" stroke="#404040" stroke-width="1.3"/>
<text x="556" y="663.0" fill="#000" text-anchor="end" style="font-family:'Liberation Sans',sans-serif;font-size:16.5px" >0.02</text>
<line x1="566.3" y1="622.8" x2="569.8" y2="622.8" stroke="#404040" stroke-width="1.3"/>
<text x="556" y="628.2" fill="#000" text-anchor="end" style="font-family:'Liberation Sans',sans-serif;font-size:16.5px" >0.04</text>
<line x1="566.3" y1="588.0" x2="569.8" y2="588.0" stroke="#404040" stroke-width="1.3"/>
<text x="556" y="593.4" fill="#000" text-anchor="end" style="font-family:'Liberation Sans',sans-serif;font-size:16.5px" >0.06</text>
<line x1="566.3" y1="553.2" x2="569.8" y2="553.2" stroke="#404040" stroke-width="1.3"/>
<text x="556" y="558.6" fill="#000" text-anchor="end" style="font-family:'Liberation Sans',sans-serif;font-size:16.5px" >0.08</text>
<line x1="566.3" y1="518.5" x2="569.8" y2="518.5" stroke="#404040" stroke-width="1.3"/>
<text x="556" y="523.9" fill="#000" text-anchor="end" style="font-family:'Liberation Sans',sans-serif;font-size:16.5px" >0.1</text>
<line x1="566.3" y1="483.7" x2="569.8" y2="483.7" stroke="#404040" stroke-width="1.3"/>
<text x="556" y="489.1" fill="#000" text-anchor="end" style="font-family:'Liberation Sans',sans-serif;font-size:16.5px" >0.12</text>
<line x1="566.3" y1="448.9" x2="569.8" y2="448.9" stroke="#404040" stroke-width="1.3"/>
<text x="556" y="454.3" fill="#000" text-anchor="end" style="font-family:'Liberation Sans',sans-serif;font-size:16.5px" >0.14</text>
<line x1="566.3" y1="414.1" x2="569.8" y2="414.1" stroke="#404040" stroke-width="1.3"/>
<text x="556" y="419.5" fill="#000" text-anchor="end" style="font-family:'Liberation Sans',sans-serif;font-size:16.5px" >0.16</text>
<text x="745" y="736" fill="#000" text-anchor="middle" style="font-family:'Liberation Serif',serif;font-size:22px;font-style:italic" >&#952;</text>
<line x1="566.3" y1="692.4" x2="919.5" y2="434.4" stroke="#000" stroke-width="3"/>
<line x1="566.3" y1="659.7" x2="920" y2="516.6" stroke="#22a822" stroke-width="3.3"/>
<rect x="561.7" y="688.1" width="8.6" height="8.6" fill="none" stroke="#22a822" stroke-width="2.2"/>
<rect x="596.2" y="624.0" width="8.6" height="8.6" fill="none" stroke="#22a822" stroke-width="2.2"/>
<rect x="596.2" y="643.5" width="8.6" height="8.6" fill="none" stroke="#22a822" stroke-width="2.2"/>
<rect x="616.4" y="614.2" width="8.6" height="8.6" fill="none" stroke="#22a822" stroke-width="2.2"/>
<rect x="616.4" y="643.5" width="8.6" height="8.6" fill="none" stroke="#22a822" stroke-width="2.2"/>
<rect x="637.2" y="601.0" width="8.6" height="8.6" fill="none" stroke="#22a822" stroke-width="2.2"/>
<rect x="637.2" y="627.2" width="8.6" height="8.6" fill="none" stroke="#22a822" stroke-width="2.2"/>
<rect x="656.4" y="600.1" width="8.6" height="8.6" fill="none" stroke="#22a822" stroke-width="2.2"/>
<rect x="656.4" y="618.6" width="8.6" height="8.6" fill="none" stroke="#22a822" stroke-width="2.2"/>
<rect x="674.9" y="597.9" width="8.6" height="8.6" fill="none" stroke="#22a822" stroke-width="2.2"/>
<rect x="674.9" y="607.7" width="8.6" height="8.6" fill="none" stroke="#22a822" stroke-width="2.2"/>
<rect x="697.9" y="578.6" width="8.6" height="8.6" fill="none" stroke="#22a822" stroke-width="2.2"/>
<rect x="697.9" y="597.9" width="8.6" height="8.6" fill="none" stroke="#22a822" stroke-width="2.2"/>
<rect x="728.2" y="587.5" width="8.6" height="8.6" fill="none" stroke="#22a822" stroke-width="2.2"/>
<rect x="748.2" y="572.0" width="8.6" height="8.6" fill="none" stroke="#22a822" stroke-width="2.2"/>
<rect x="748.2" y="583.8" width="8.6" height="8.6" fill="none" stroke="#22a822" stroke-width="2.2"/>
<rect x="765.1" y="550.7" width="8.6" height="8.6" fill="none" stroke="#22a822" stroke-width="2.2"/>
<rect x="765.1" y="584.5" width="8.6" height="8.6" fill="none" stroke="#22a822" stroke-width="2.2"/>
<rect x="788.0" y="546.4" width="8.6" height="8.6" fill="none" stroke="#22a822" stroke-width="2.2"/>
<rect x="788.0" y="579.7" width="8.6" height="8.6" fill="none" stroke="#22a822" stroke-width="2.2"/>
<rect x="809.7" y="552.5" width="8.6" height="8.6" fill="none" stroke="#22a822" stroke-width="2.2"/>
<rect x="809.7" y="578.0" width="8.6" height="8.6" fill="none" stroke="#22a822" stroke-width="2.2"/>
<rect x="827.8" y="551.8" width="8.6" height="8.6" fill="none" stroke="#22a822" stroke-width="2.2"/>
<rect x="827.8" y="559.5" width="8.6" height="8.6" fill="none" stroke="#22a822" stroke-width="2.2"/>
<rect x="852.7" y="528.3" width="8.6" height="8.6" fill="none" stroke="#22a822" stroke-width="2.2"/>
<rect x="852.7" y="558.4" width="8.6" height="8.6" fill="none" stroke="#22a822" stroke-width="2.2"/>
<rect x="881.2" y="540.5" width="8.6" height="8.6" fill="none" stroke="#22a822" stroke-width="2.2"/>
<rect x="881.2" y="542.2" width="8.6" height="8.6" fill="none" stroke="#22a822" stroke-width="2.2"/>
<rect x="915.4" y="453.4" width="8.6" height="8.6" fill="none" stroke="#22a822" stroke-width="2.2"/>
<rect x="915.4" y="539.9" width="8.6" height="8.6" fill="none" stroke="#22a822" stroke-width="2.2"/>
<circle cx="600.5" cy="657.5" r="4.2" fill="none" stroke="#000" stroke-width="2.1"/>
<circle cx="600.5" cy="664.7" r="4.2" fill="none" stroke="#000" stroke-width="2.1"/>
<circle cx="620.7" cy="633.2" r="4.2" fill="none" stroke="#000" stroke-width="2.1"/>
<circle cx="620.7" cy="658.2" r="4.2" fill="none" stroke="#000" stroke-width="2.1"/>
<circle cx="641.5" cy="627.3" r="4.2" fill="none" stroke="#000" stroke-width="2.1"/>
<circle cx="641.5" cy="635.5" r="4.2" fill="none" stroke="#000" stroke-width="2.1"/>
<circle cx="660.7" cy="634.7" r="4.2" fill="none" stroke="#000" stroke-width="2.1"/>
<circle cx="679.2" cy="605.9" r="4.2" fill="none" stroke="#000" stroke-width="2.1"/>
<circle cx="679.2" cy="623.6" r="4.2" fill="none" stroke="#000" stroke-width="2.1"/>
<circle cx="701.6" cy="598.5" r="4.2" fill="none" stroke="#000" stroke-width="2.1"/>
<circle cx="732.5" cy="577" r="4.2" fill="none" stroke="#000" stroke-width="2.1"/>
<circle cx="732.5" cy="585.9" r="4.2" fill="none" stroke="#000" stroke-width="2.1"/>
<circle cx="752.5" cy="566.2" r="4.2" fill="none" stroke="#000" stroke-width="2.1"/>
<circle cx="769.4" cy="538.3" r="4.2" fill="none" stroke="#000" stroke-width="2.1"/>
<circle cx="769.4" cy="541.5" r="4.2" fill="none" stroke="#000" stroke-width="2.1"/>
<circle cx="792.3" cy="522" r="4.2" fill="none" stroke="#000" stroke-width="2.1"/>
<circle cx="792.3" cy="531.3" r="4.2" fill="none" stroke="#000" stroke-width="2.1"/>
<circle cx="814" cy="500.8" r="4.2" fill="none" stroke="#000" stroke-width="2.1"/>
<circle cx="814" cy="509.5" r="4.2" fill="none" stroke="#000" stroke-width="2.1"/>
<circle cx="832.1" cy="479" r="4.2" fill="none" stroke="#000" stroke-width="2.1"/>
<circle cx="832.1" cy="501.3" r="4.2" fill="none" stroke="#000" stroke-width="2.1"/>
<circle cx="857" cy="466" r="4.2" fill="none" stroke="#000" stroke-width="2.1"/>
<circle cx="857" cy="471.2" r="4.2" fill="none" stroke="#000" stroke-width="2.1"/>
<circle cx="885.5" cy="426.8" r="4.2" fill="none" stroke="#000" stroke-width="2.1"/>
<circle cx="885.5" cy="456.2" r="4.2" fill="none" stroke="#000" stroke-width="2.1"/>
<circle cx="919.7" cy="446.4" r="4.2" fill="none" stroke="#000" stroke-width="2.1"/>
<circle cx="919.7" cy="466.4" r="4.2" fill="none" stroke="#000" stroke-width="2.1"/>
<rect x="578.7" y="418.5" width="156.7" height="90.3" fill="#fff" stroke="#222" stroke-width="1.2"/>
<text x="637" y="436" fill="#000" text-anchor="middle" style="font-family:'Liberation Sans',sans-serif;font-size:16px" >Data</text>
<text x="702" y="437.6" fill="#000" text-anchor="middle" style="font-family:'Liberation Sans',sans-serif;font-size:16px" >Fit</text>
<text x="607.5" y="465" fill="#000" text-anchor="middle" style="font-family:'Liberation Sans',sans-serif;font-size:20px;font-style:italic" >r</text>
<text x="604" y="492.4" fill="#000" text-anchor="middle" style="font-family:'Liberation Sans',sans-serif;font-size:20px;font-style:italic" >w</text>
<circle cx="636.7" cy="461.8" r="8.6" fill="none" stroke="#000" stroke-width="2.6"/>
<rect x="629" y="483.6" width="14.9" height="14.8" fill="none" stroke="#1b8f1b" stroke-width="2.8"/>
<line x1="679.3" y1="461.4" x2="728.4" y2="461.4" stroke="#000" stroke-width="2.6"/>
<line x1="679.3" y1="490.4" x2="728.4" y2="490.4" stroke="#1b8f1b" stroke-width="2.6"/>
<text x="809" y="411.8" fill="#000" text-anchor="middle" style="font-family:'Liberation Sans',sans-serif;font-size:16.3px" >Canal</text>
<text x="809" y="431.5" fill="#000" text-anchor="middle" style="font-family:'Liberation Sans',sans-serif;font-size:16.3px" >radius</text>
<text x="911" y="596.4" fill="#1b7d1b" text-anchor="middle" style="font-family:'Liberation Sans',sans-serif;font-size:16.3px" >Wall</text>
<text x="910.5" y="616" fill="#1b7d1b" text-anchor="middle" style="font-family:'Liberation Sans',sans-serif;font-size:16.3px" >thickness</text>
</svg>
</body></html>
